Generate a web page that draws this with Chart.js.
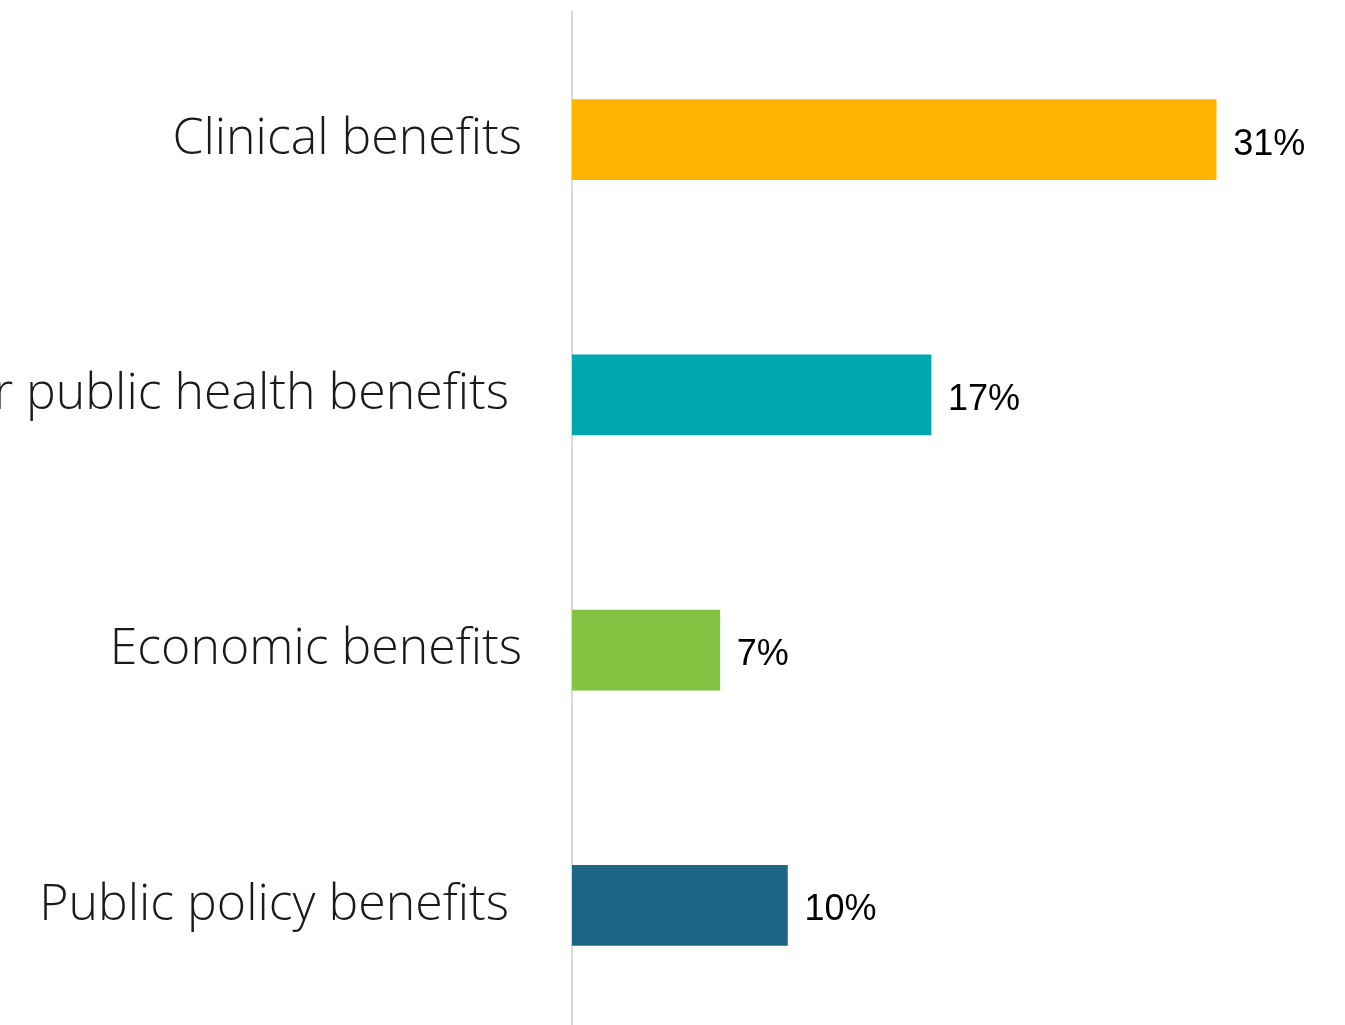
<!DOCTYPE html>
<html>
<head>
<meta charset="utf-8">
<script src="https://cdn.jsdelivr.net/npm/chart.js@4"></script>
<style>
  html, body { margin: 0; padding: 0; background: #fff; overflow: hidden; }
  #wrap { width: 1345px; height: 1033px; }
</style>
</head>
<body>
<div id="wrap"><canvas id="benefits"></canvas></div>
<script>
// trailing spaces on two labels mirror the shifted right edge in the original
const categories = ['Clinical benefits', 'Population or public health benefits ', 'Economic benefits', 'Public policy benefits ']
const shares = [30.5, 17.0, 7.0, 10.2]
const shareLabels = ['31%', '17%', '7%', '10%']
const barColors = ['#FFB500', '#00A6AE', '#84C341', '#1C6685']

const valueLabels = {
    id: 'valueLabels',
    afterDatasetsDraw(chart) {
        const ctx = chart.ctx
        const meta = chart.getDatasetMeta(0)
        ctx.save()
        ctx.font = '36px "Liberation Sans", Arial, sans-serif'
        ctx.fillStyle = '#000'
        ctx.textAlign = 'left'
        ctx.textBaseline = 'alphabetic'
        meta.data.forEach((bar, i) => {
            ctx.fillText(shareLabels[i], bar.x + 17, bar.y + 15)
        })
        ctx.restore()
    }
}

const ctx = document.querySelector('#benefits')
const benefitsChart = new Chart(ctx, {
    type: 'bar',
    data: {
        labels: categories,
        datasets: [{
            data: shares,
            backgroundColor: barColors,
            barThickness: 80
        }]
    },
    options: {
        indexAxis: 'y',
        responsive: true,
        maintainAspectRatio: false,
        animation: false,
        layout: { padding: { top: 12, right: 0, bottom: 0, left: 0 } },
        plugins: {
            legend: { display: false },
            tooltip: { enabled: false }
        },
        scales: {
            x: {
                display: false,
                min: 0,
                max: 36.6
            },
            y: {
                afterFit: (scale) => {
                    scale.width = 572
                    scale.paddingTop = 0
                    scale.paddingBottom = 0
                },
                grid: { display: false, drawTicks: false },
                border: { display: true, color: '#d9d9d9', width: 2 },
                ticks: {
                    padding: 50,
                    color: '#1a1a1a',
                    font: { family: '"Open Sans", sans-serif', weight: 300, size: 50 }
                }
            }
        }
    },
    plugins: [valueLabels]
})
</script>
</body>
</html>
